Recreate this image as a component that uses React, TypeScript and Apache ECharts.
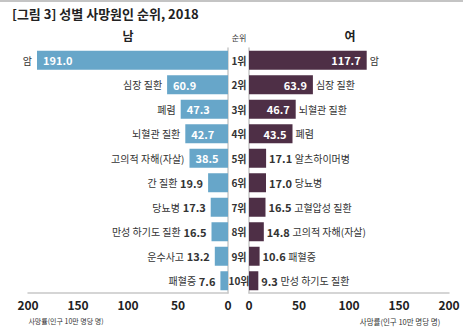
import React, { useEffect, useRef } from "react";
import * as echarts from "echarts";

const ranks = ["1위", "2위", "3위", "4위", "5위", "6위", "7위", "8위", "9위", "10위"];
const maleCauses = ["암", "심장 질환", "폐렴", "뇌혈관 질환", "고의적 자해(자살)", "간 질환", "당뇨병", "만성 하기도 질환", "운수사고", "패혈증"];
const maleRates = [191.0, 60.9, 47.3, 42.7, 38.5, 19.9, 17.3, 16.5, 13.2, 7.6];
const femaleCauses = ["암", "심장 질환", "뇌혈관 질환", "폐렴", "알츠하이머병", "당뇨병", "고혈압성 질환", "고의적 자해(자살)", "패혈증", "만성 하기도 질환"];
const femaleRates = [117.7, 63.9, 46.7, 43.5, 17.1, 17.0, 16.5, 14.8, 10.6, 9.3];
const axisTicks = [0, 50, 100, 150, 200];

const FONT = "'Noto Sans CJK KR', 'Noto Sans', sans-serif";
const MALE_COLOR = "#67a6c9";
const FEMALE_COLOR = "#4e2f46";
const INSIDE_MIN = 30;

export default function App() {
  const ref = useRef<HTMLDivElement>(null);
  useEffect(() => {
    if (!ref.current) return;
    const chart = echarts.init(ref.current, undefined, { renderer: "svg" });
    const rich = {
      n: { fontSize: 10, color: "#333", fontFamily: FONT },
      v: { fontSize: 11, fontWeight: "bold", color: "#333", fontFamily: FONT },
    };
    const xAxisBase = {
      type: "value",
      min: axisTicks[0],
      max: axisTicks[axisTicks.length - 1],
      interval: 50,
      splitLine: { show: false },
      axisTick: { show: false },
      axisLine: { show: true, lineStyle: { color: "#c8c8c8", width: 1.5 } },
      axisLabel: { fontSize: 12, fontWeight: "bold", color: "#222", margin: 5, fontFamily: FONT },
    };
    const option: any = {
      animation: false,
      textStyle: { fontFamily: FONT },
      grid: [
        { left: 28, top: 48, width: 200, height: 245 },
        { left: 249, top: 48, width: 200, height: 245 },
      ],
      xAxis: [
        { ...xAxisBase, gridIndex: 0, inverse: true },
        { ...xAxisBase, gridIndex: 1 },
      ],
      yAxis: [
        {
          gridIndex: 0,
          type: "category",
          data: ranks,
          inverse: true,
          position: "right",
          axisTick: { show: false },
          axisLine: { show: true, lineStyle: { color: "#c8c8c8", width: 1.5 } },
          axisLabel: { show: true, margin: 11, align: "center", fontSize: 10, fontWeight: "bold", color: "#333", fontFamily: FONT },
        },
        {
          gridIndex: 1,
          type: "category",
          data: ranks,
          inverse: true,
          position: "left",
          axisTick: { show: false },
          axisLine: { show: true, lineStyle: { color: "#c8c8c8", width: 1.5 } },
          axisLabel: { show: false },
        },
      ],
      series: [
        {
          type: "bar",
          xAxisIndex: 0,
          yAxisIndex: 0,
          data: maleRates,
          barWidth: 19,
          barGap: "-100%",
          silent: true,
          itemStyle: { color: MALE_COLOR },
          label: {
            show: true,
            position: "insideLeft",
            distance: 6,
            color: "#fff",
            fontSize: 11,
            fontWeight: "bold",
            fontFamily: FONT,
            formatter: (p: any) => (p.value >= INSIDE_MIN ? p.value.toFixed(1) : ""),
          },
        },
        {
          type: "bar",
          xAxisIndex: 0,
          yAxisIndex: 0,
          data: maleRates,
          barWidth: 19,
          barGap: "-100%",
          silent: true,
          itemStyle: { color: "rgba(0,0,0,0)" },
          label: {
            show: true,
            position: "left",
            distance: 5,
            rich,
            formatter: (p: any) =>
              p.value >= INSIDE_MIN
                ? `{n|${maleCauses[p.dataIndex]}}`
                : `{n|${maleCauses[p.dataIndex]}} {v|${p.value.toFixed(1)}}`,
          },
        },
        {
          type: "bar",
          xAxisIndex: 1,
          yAxisIndex: 1,
          data: femaleRates,
          barWidth: 19,
          barGap: "-100%",
          silent: true,
          itemStyle: { color: FEMALE_COLOR },
          label: {
            show: true,
            position: "insideRight",
            distance: 6,
            color: "#fff",
            fontSize: 11,
            fontWeight: "bold",
            fontFamily: FONT,
            formatter: (p: any) => (p.value >= INSIDE_MIN ? p.value.toFixed(1) : ""),
          },
        },
        {
          type: "bar",
          xAxisIndex: 1,
          yAxisIndex: 1,
          data: femaleRates,
          barWidth: 19,
          barGap: "-100%",
          silent: true,
          itemStyle: { color: "rgba(0,0,0,0)" },
          label: {
            show: true,
            position: "right",
            distance: 3,
            rich,
            formatter: (p: any) =>
              p.value >= INSIDE_MIN
                ? `{n|${femaleCauses[p.dataIndex]}}`
                : `{v|${p.value.toFixed(1)}} {n|${femaleCauses[p.dataIndex]}}`,
          },
        },
      ],
      graphic: [
        { type: "rect", shape: { x: 0, y: 0, width: 463, height: 2 }, style: { fill: "#c4c4c4" } },
        {
          type: "text",
          left: 12,
          top: 7,
          style: { text: "[그림 3] 성별 사망원인 순위, 2018", fontSize: 13, fontWeight: "bold", fill: "#222", fontFamily: FONT },
        },
        { type: "text", x: 128, y: 35, style: { text: "남", fontSize: 12, fontWeight: "bold", fill: "#222", align: "center", verticalAlign: "middle", fontFamily: FONT } },
        { type: "text", x: 239, y: 37, style: { text: "순위", fontSize: 8, fill: "#333", align: "center", verticalAlign: "middle", fontFamily: FONT } },
        { type: "text", x: 350, y: 35, style: { text: "여", fontSize: 12, fontWeight: "bold", fill: "#222", align: "center", verticalAlign: "middle", fontFamily: FONT } },
        { type: "text", x: 66, y: 321, style: { text: "사망률(인구 10만 명당 명)", fontSize: 7, fill: "#333", align: "center", verticalAlign: "middle", fontFamily: FONT } },
        { type: "text", x: 400, y: 321, style: { text: "사망률(인구 10만 명당 명)", fontSize: 7.5, fill: "#333", align: "center", verticalAlign: "middle", fontFamily: FONT } },
      ],
    };
    chart.setOption(option);
    return () => chart.dispose();
  }, []);
  return (
    <div
      ref={ref}
      style={{ position: "absolute", left: 0, top: 0, width: 463, height: 327, background: "#fff" }}
    />
  );
}
